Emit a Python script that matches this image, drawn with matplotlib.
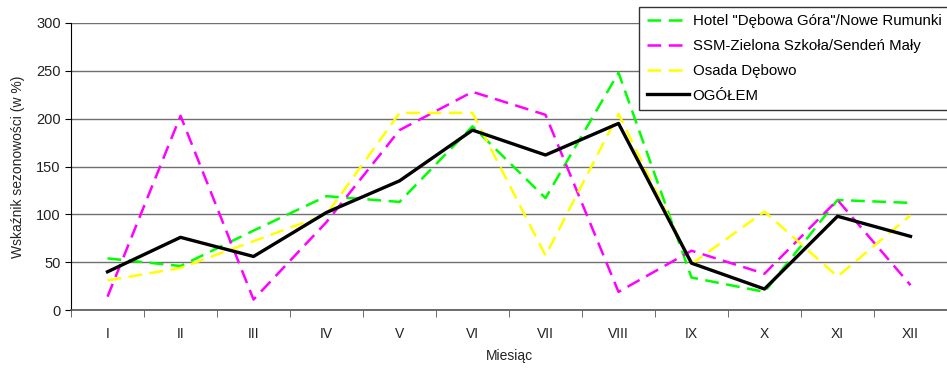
import matplotlib
matplotlib.use("Agg")
import matplotlib.pyplot as plt
from matplotlib.ticker import FixedLocator

plt.rcParams['font.family'] = ['Liberation Sans', 'DejaVu Sans']

months = ["I", "II", "III", "IV", "V", "VI", "VII", "VIII", "IX", "X", "XI", "XII"]
hotel = [54, 46, 83, 119, 113, 192, 117, 248, 34, 19, 115, 112]
ssm = [14, 203, 11, 92, 188, 228, 204, 19, 62, 38, 115, 26]
osada = [31, 44, 72, 100, 206, 206, 57, 205, 48, 103, 35, 99]
ogolem = [40, 76, 56, 102, 135, 188, 162, 195, 49, 22, 98, 77]

labels = ['Hotel "Dębowa Góra"/Nowe Rumunki', 'SSM-Zielona Szkoła/Sendeń Mały',
          'Osada Dębowo', 'OGÓŁEM']

fig = plt.figure(figsize=(9.47, 3.70), dpi=100)
ax = fig.add_axes([0.075, 0.162, 0.925, 0.776])

x = list(range(len(months)))
ax.plot(x, hotel, color='#00FF00', lw=1.8, dashes=(5.5, 3), label=labels[0])
ax.plot(x, ssm, color='#FF00FF', lw=1.8, dashes=(5.5, 3), label=labels[1])
ax.plot(x, osada, color='#FFFF00', lw=1.8, dashes=(5.5, 3), label=labels[2])
ax.plot(x, ogolem, color='black', lw=2.4, label=labels[3])

ax.set_xlim(-0.5, 11.5)
ax.set_ylim(0, 300)
ax.set_yticks(range(0, 301, 50))
ax.set_xticks(x)
ax.set_xticklabels(months)
ax.tick_params(axis='x', which='major', length=0, pad=12, labelsize=10, colors='#222222')
ax.xaxis.set_minor_locator(FixedLocator([i - 0.5 for i in range(13)]))
ax.tick_params(axis='x', which='minor', length=5, color='#555555')
ax.tick_params(axis='y', length=4, labelsize=10.5, colors='black', labelcolor='#222222')

ax.grid(axis='y', color='#707070', lw=1.0)
ax.set_axisbelow(True)
for s in ['top', 'right']:
    ax.spines[s].set_visible(False)
ax.spines['left'].set_color('black')
ax.spines['bottom'].set_color('#555555')
ax.spines['bottom'].set_linewidth(1.2)

ax.set_ylabel('Wskaźnik sezonowości (w %)', fontsize=10, color='#222222', labelpad=8)
ax.set_xlabel('Miesiąc', fontsize=10, color='#222222', labelpad=6)

leg = fig.legend(loc='upper right', bbox_to_anchor=(1.002, 0.982), fontsize=10.8,
                 frameon=True, fancybox=False, edgecolor='#333333', handlelength=2.8,
                 handletextpad=0.25, borderpad=0.5, labelspacing=0.72, borderaxespad=0)
leg.get_frame().set_linewidth(1.0)
leg.get_frame().set_facecolor('white')
leg.get_frame().set_alpha(1)

fig.savefig('out.png', dpi=100)
